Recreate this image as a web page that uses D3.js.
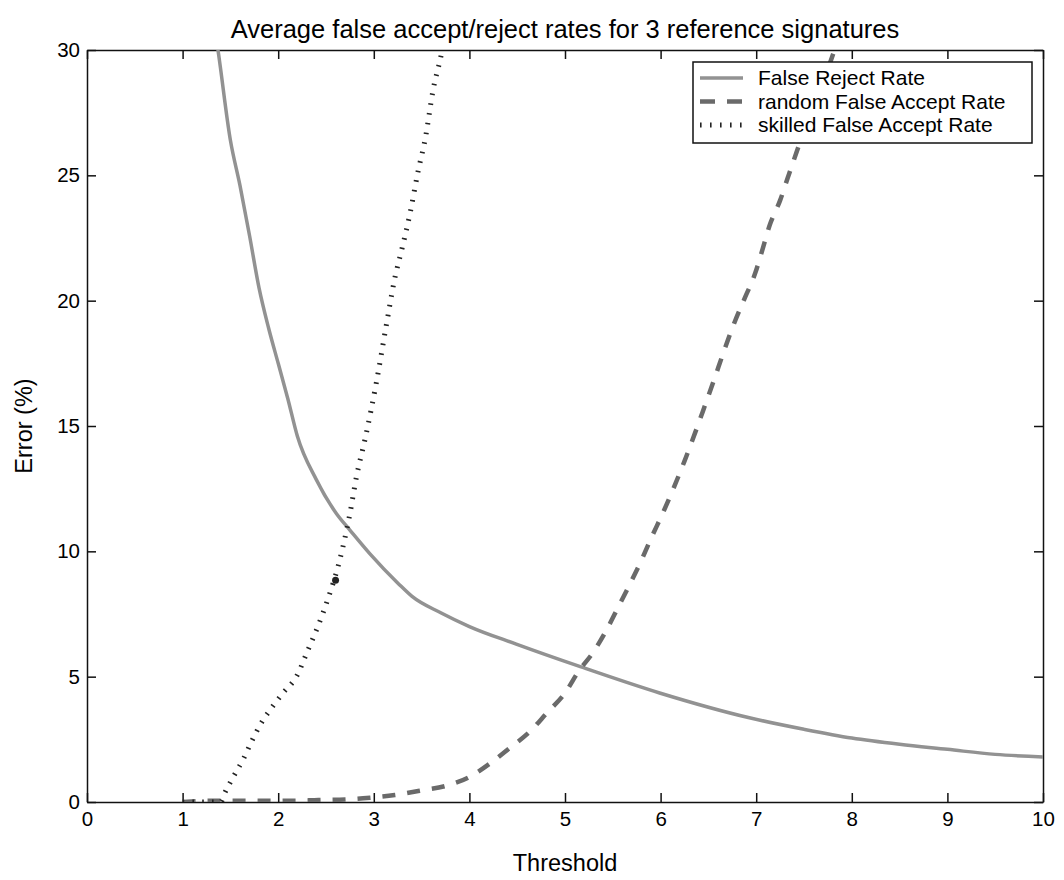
<!DOCTYPE html>
<html>
<head>
<meta charset="utf-8">
<script src="https://cdnjs.cloudflare.com/ajax/libs/d3/7.8.5/d3.min.js"></script>
<style>
  body { margin: 0; background: #fff; }
  text { font-family: "Liberation Sans", Arial, Helvetica, sans-serif; fill: #000; }
  .axis path, .axis line { stroke: #111; stroke-width: 1.5; }
  .axis text { font-size: 20.5px; font-family: "Liberation Sans", Arial, sans-serif; }
</style>
</head>
<body>
<div id="chart"></div>
<script>
// ---- data ----
var frrThreshold = [1.33, 1.37, 1.50, 1.60, 1.70, 1.80, 1.90, 2.00, 2.10, 2.20, 2.40, 2.61, 2.75, 2.96, 3.26, 3.40, 3.70, 4.00, 4.49, 5.16, 5.99, 6.94, 7.50, 8.00, 8.50, 9.00, 9.50, 10.0];
var frrError     = [31.0, 30.0, 26.4, 24.6, 22.6, 20.5, 18.9, 17.5, 16.1, 14.6, 12.85, 11.5, 10.85, 9.9, 8.7, 8.2, 7.55, 7.0, 6.3, 5.4, 4.35, 3.35, 2.9, 2.55, 2.3, 2.1, 1.9, 1.8];

var randomThreshold = [1.0, 1.32, 1.62, 1.90, 2.16, 2.42, 2.70, 2.96, 3.22, 3.48, 3.76, 4.00, 4.22, 4.42, 4.63, 4.81, 5.00, 5.14, 5.30, 5.44, 5.56, 5.68, 5.80, 5.91, 6.02, 6.25, 6.50, 6.78, 6.88, 6.99, 7.07, 7.14, 7.25, 7.33, 7.42, 7.60, 7.81, 7.90];
var randomError     = [0.0, 0.05, 0.05, 0.05, 0.05, 0.08, 0.10, 0.17, 0.28, 0.45, 0.65, 1.0, 1.55, 2.15, 2.8, 3.55, 4.35, 5.2, 6.0, 6.9, 7.8, 8.7, 9.65, 10.6, 11.5, 13.6, 16.2, 19.2, 20.1, 21.1, 22.1, 23.0, 24.0, 24.9, 25.9, 27.8, 29.9, 31.0];

var skilledThreshold = [1.0, 1.2, 1.4, 1.44, 1.53, 1.64, 1.72, 1.81, 1.93, 2.05, 2.19, 2.31, 2.42, 2.52, 2.64, 2.75, 2.82, 2.91, 3.03, 3.13, 3.22, 3.29, 3.38, 3.46, 3.54, 3.62, 3.71, 3.76];
var skilledError     = [0.0, 0.0, 0.0, 0.35, 1.0, 1.75, 2.4, 3.07, 3.75, 4.35, 5.0, 6.05, 7.05, 8.1, 9.6, 11.5, 13.0, 14.5, 16.8, 19.0, 20.9, 22.0, 23.5, 25.1, 26.5, 28.4, 29.9, 31.0];

var markerPoint = [2.6, 8.85];

var xTicks = [0, 1, 2, 3, 4, 5, 6, 7, 8, 9, 10];
var yTicks = [0, 5, 10, 15, 20, 25, 30];

var legendLabels = ["False Reject Rate", "random False Accept Rate", "skilled False Accept Rate"];

// ---- layout ----
var margin = { top: 50, right: 21, bottom: 78, left: 87 };
var outerWidth = 1064, outerHeight = 880;
var width = outerWidth - margin.left - margin.right;
var height = outerHeight - margin.top - margin.bottom;

var svg = d3.select("#chart").append("svg")
  .attr("width", outerWidth)
  .attr("height", outerHeight);

var g = svg.append("g")
  .attr("transform", "translate(" + margin.left + "," + margin.top + ")");

var x = d3.scaleLinear().domain([0, 10]).range([0, width]);
var y = d3.scaleLinear().domain([0, 30]).range([height, 0]);

g.append("clipPath").attr("id", "plot-clip")
  .append("rect").attr("width", width).attr("height", height);

// series as point lists
function zipSeries(ts, vs) {
  return ts.map(function(t, i) { return { t: t, v: vs[i] }; });
}

var series = [
  { name: legendLabels[0], pts: zipSeries(frrThreshold, frrError), stroke: "#929292", width: 3.5, dash: null },
  { name: legendLabels[1], pts: zipSeries(randomThreshold, randomError), stroke: "#6a6a6a", width: 4.5, dash: "13,12" },
  { name: legendLabels[2], pts: zipSeries(skilledThreshold, skilledError), stroke: "#222", width: 5, dash: "1.6,8.2" }
];

var line = d3.line()
  .curve(d3.curveMonotoneX)
  .x(function(d) { return x(d.t); })
  .y(function(d) { return y(d.v); });

// axes (ticks point inward, box on all four sides)
g.append("g")
  .attr("class", "axis")
  .attr("transform", "translate(0," + height + ")")
  .call(d3.axisBottom(x).tickValues(xTicks).tickSizeInner(-9).tickSizeOuter(0).tickPadding(9));

g.append("g")
  .attr("class", "axis")
  .call(d3.axisLeft(y).tickValues(yTicks).tickSizeInner(-9).tickSizeOuter(0).tickPadding(7));

g.append("g")
  .attr("class", "axis")
  .call(d3.axisTop(x).tickValues(xTicks).tickSizeInner(-9).tickSizeOuter(0).tickFormat(""));

g.append("g")
  .attr("class", "axis")
  .attr("transform", "translate(" + width + ",0)")
  .call(d3.axisRight(y).tickValues(yTicks).tickSizeInner(-9).tickSizeOuter(0).tickFormat(""));

// curves
var plot = g.append("g").attr("clip-path", "url(#plot-clip)");

plot.selectAll("path.series")
  .data(series)
  .enter().append("path")
  .attr("class", "series")
  .attr("fill", "none")
  .attr("stroke", function(d) { return d.stroke; })
  .attr("stroke-width", function(d) { return d.width; })
  .attr("stroke-dasharray", function(d) { return d.dash; })
  .attr("d", function(d) { return line(d.pts); });

plot.append("circle")
  .attr("cx", x(markerPoint[0]))
  .attr("cy", y(markerPoint[1]))
  .attr("r", 3.5)
  .attr("fill", "#222");

// legend
var legend = svg.append("g").attr("transform", "translate(693,62)");

legend.append("rect")
  .attr("width", 339)
  .attr("height", 81)
  .attr("fill", "#fff")
  .attr("stroke", "#111")
  .attr("stroke-width", 1.5);

var rows = legend.selectAll("g.row")
  .data(series)
  .enter().append("g")
  .attr("class", "row")
  .attr("transform", function(d, i) { return "translate(0," + (16 + i * 23.5) + ")"; });

rows.append("line")
  .attr("x1", 7).attr("x2", 50)
  .attr("y1", 0).attr("y2", 0)
  .attr("stroke", function(d) { return d.stroke; })
  .attr("stroke-width", function(d) { return d.width; })
  .attr("stroke-dasharray", function(d, i) { return i === 1 ? "15,12" : (i === 2 ? "1.6,8.4" : null); });

rows.append("text")
  .attr("x", 65)
  .attr("y", 7)
  .style("font-size", "21px")
  .text(function(d) { return d.name; });

// titles
svg.append("text")
  .attr("x", margin.left + width / 2)
  .attr("y", 38)
  .attr("text-anchor", "middle")
  .style("font-size", "25.5px")
  .text("Average false accept/reject rates for 3 reference signatures");

svg.append("text")
  .attr("x", margin.left + width / 2)
  .attr("y", 871)
  .attr("text-anchor", "middle")
  .style("font-size", "23.5px")
  .text("Threshold");

svg.append("text")
  .attr("transform", "translate(32," + (margin.top + height / 2) + ") rotate(-90)")
  .attr("text-anchor", "middle")
  .style("font-size", "23.5px")
  .text("Error (%)");
</script>
</body>
</html>
